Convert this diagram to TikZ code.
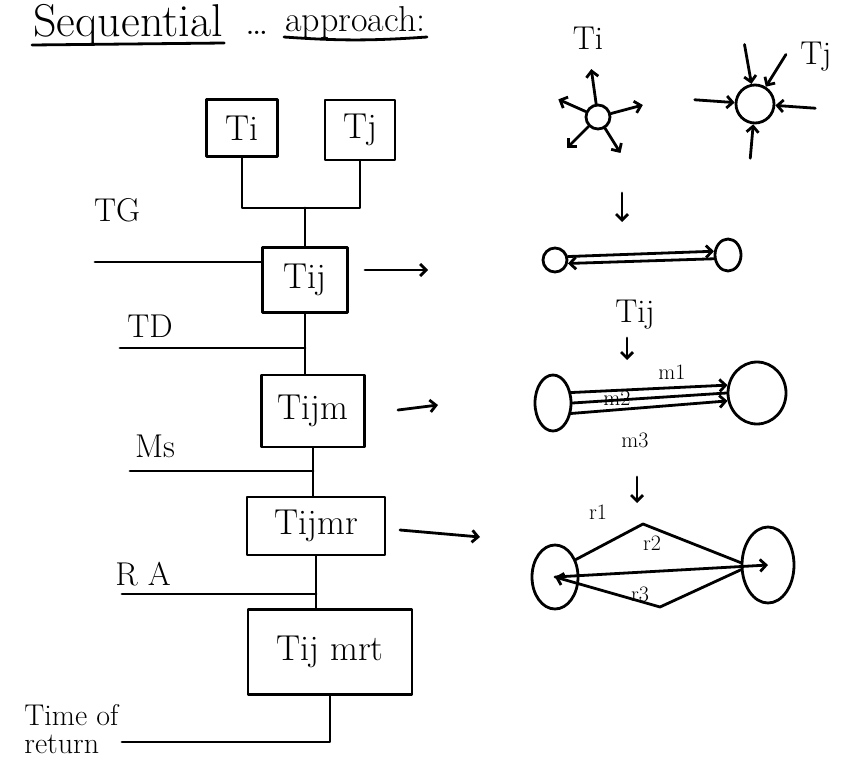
\documentclass[tikz,border=0pt]{standalone}
\usepackage{tikz}
\usetikzlibrary{positioning,calc,shapes.geometric,arrows.meta}
\tikzset{blk/.style={draw,line width=2.8pt,font=\fontsize{36}{38}\selectfont,inner sep=0pt},
	lbl/.style={font=\fontsize{33}{35}\selectfont,inner sep=1pt},
	sml/.style={font=\fontsize{22}{24}\selectfont,inner sep=1pt},
	dot/.style={circle,draw,inner sep=0pt},
	oval/.style={ellipse,draw,inner sep=0pt}}

\begin{document}
\begin{tikzpicture}[x=1pt,y=-1pt,line width=2.8pt,line cap=round,line join=round,
	>={Straight Barb[length=6pt,width=12pt]}]
	\useasboundingbox (0,0) rectangle (843,763);
	% title
	\node[font=\fontsize{46}{48}\selectfont,anchor=base west,inner sep=0pt] (ttl) at (32,36) {Sequential};
	\node[font=\fontsize{40}{42}\selectfont,anchor=base west,inner sep=0pt] (dots) at (244,34) {\dots};
	\node[font=\fontsize{36}{38}\selectfont,anchor=base west,inner sep=0pt] (appr) at (284,31) {approach:};
	\draw ([yshift=-9pt]ttl.base west) -- ([yshift=-7pt]ttl.base east);
	\draw ([yshift=-6pt]appr.base west) to[bend right=4] ([yshift=-6pt]appr.base east);
	
	% left chain
	\node[blk,minimum width=71pt,minimum height=57pt] (ti) at (242,128) {Ti};
	\node[blk,minimum width=70pt,minimum height=60pt] (tj) at (360,130) {Tj};
	\node[blk,minimum width=85pt,minimum height=65pt] (tij) at (305,280) {Tij};
	\node[blk,minimum width=103pt,minimum height=72pt] (tijm) at (313,411) {Tijm};
	\node[blk,minimum width=138pt,minimum height=58pt] (tijmr) at (316,526) {Tijmr};
	\node[blk,minimum width=164pt,minimum height=85pt] (tijmrt) at (330,652) {Tij mrt};
	
	\coordinate (jn) at (305,208);
	\draw (ti.south) -- (ti.south |- jn) -- (tj.south |- jn) -- (tj.south);
	\draw (jn) -- (tij.north);
	\foreach \a/\b in {tij/tijm,tijm/tijmr,tijmr/tijmrt}
		\draw (\a.south) -- (\a.south |- \b.north);
	
	% inputs
	\coordinate (tg) at (95,262);
	\coordinate (td) at (120,348);
	\coordinate (ms) at (130,471);
	\coordinate (ra) at (122,594);
	\coordinate (rt) at (122,742);
	\draw (tg) -- (tg -| tij.west);
	\draw (td) -- (td -| tij.south);
	\draw (ms) -- (ms -| tijm.south);
	\draw (ra) -- (ra -| tijmr.south);
	\draw (tijmrt.south) |- (rt);
	\node[lbl] (tglbl) at (117,210) {TG};
	\node[lbl] (tdlbl) at (150,326) {TD};
	\node[lbl] (mslbl) at (155,446) {Ms};
	\node[lbl] (ralbl) at (143,574) {R A};
	\node[lbl,align=left,anchor=south west,font=\fontsize{30}{28}\selectfont] (tor) at (22,756) {Time of\\return};
	
	% arrows to the right
	\coordinate (a1s) at (365,270); \coordinate (a1e) at (428,270);
	\coordinate (a2s) at (398,410); \coordinate (a2e) at (438,405);
	\coordinate (a3s) at (400,530); \coordinate (a3e) at (480,537);
	\foreach \s/\e in {a1s/a1e,a2s/a2e,a3s/a3e}
		\draw[->] (\s) -- (\e);
	
	% Ti and Tj
	\node[dot,minimum size=24pt] (si) at (598,117) {};
	\foreach \a/\l in {98/35,156/30,15/33,225/30,302/29}
		\draw[->] (si.\a) -- ++(\a:\l pt);
	\node[lbl] (tilbl) at (588,38) {Ti};
	\node[dot,minimum size=38pt] (sj) at (755,104) {};
	\foreach \a/\l in {100/40,58/38,176/40,356/40,265/34}
		\draw[<-] (sj.\a) -- ++(\a:\l pt);
	\node[lbl] (tjlbl) at (816,57) {Tj};
	
	% down arrows
	\coordinate (d1a) at (622,193); \coordinate (d1b) at (622,222);
	\coordinate (d2a) at (627,338); \coordinate (d2b) at (627,360);
	\coordinate (d3a) at (637,477); \coordinate (d3b) at (637,503);
	\foreach \s/\e in {d1a/d1b,d2a/d2b,d3a/d3b}
		\draw[->] (\s) -- (\e);
	
	% Tij
	\node[dot,minimum size=24pt] (p1) at (555,260) {};
	\node[oval,minimum width=26pt,minimum height=32pt] (p2) at (728,255) {};
	\draw[->] (p1.15) -- (p2.165);
	\draw[->] (p2.195) -- (p1.345);
	\node[lbl] (tijlbl) at (635,315) {Tij};
	
	% messages
	\node[oval,minimum width=36pt,minimum height=56pt] (b1) at (553,403) {};
	\node[oval,minimum width=58pt,minimum height=62pt] (b2) at (757,393) {};
	\draw[->] (b1.30) -- (b2.165);
	\draw (b1.0) -- (b2.180);
	\draw[->] (b1.330) -- (b2.195);
	\node[sml] (m1) at (672,372) {m1};
	\node[sml] (m2) at (617,398) {m2};
	\node[sml] (m3) at (635,440) {m3};
	
	% routes
	\node[oval,minimum width=46pt,minimum height=64pt] (c1) at (555,577) {};
	\node[oval,minimum width=52pt,minimum height=76pt] (c2) at (768,565) {};
	\coordinate (rtop) at (643,524);
	\coordinate (rbot) at (660,607);
	\draw (c1.40) -- (rtop) -- (c2.175);
	\draw[->] (c1.center) -- (c2.center);
	\draw[->] (c2.190) -- (rbot) -- (c1.center);
	\node[sml] (r1) at (598,512) {r1};
	\node[sml] (r2) at (652,543) {r2};
	\node[sml] (r3) at (640,594) {r3};
\end{tikzpicture}
\end{document}
